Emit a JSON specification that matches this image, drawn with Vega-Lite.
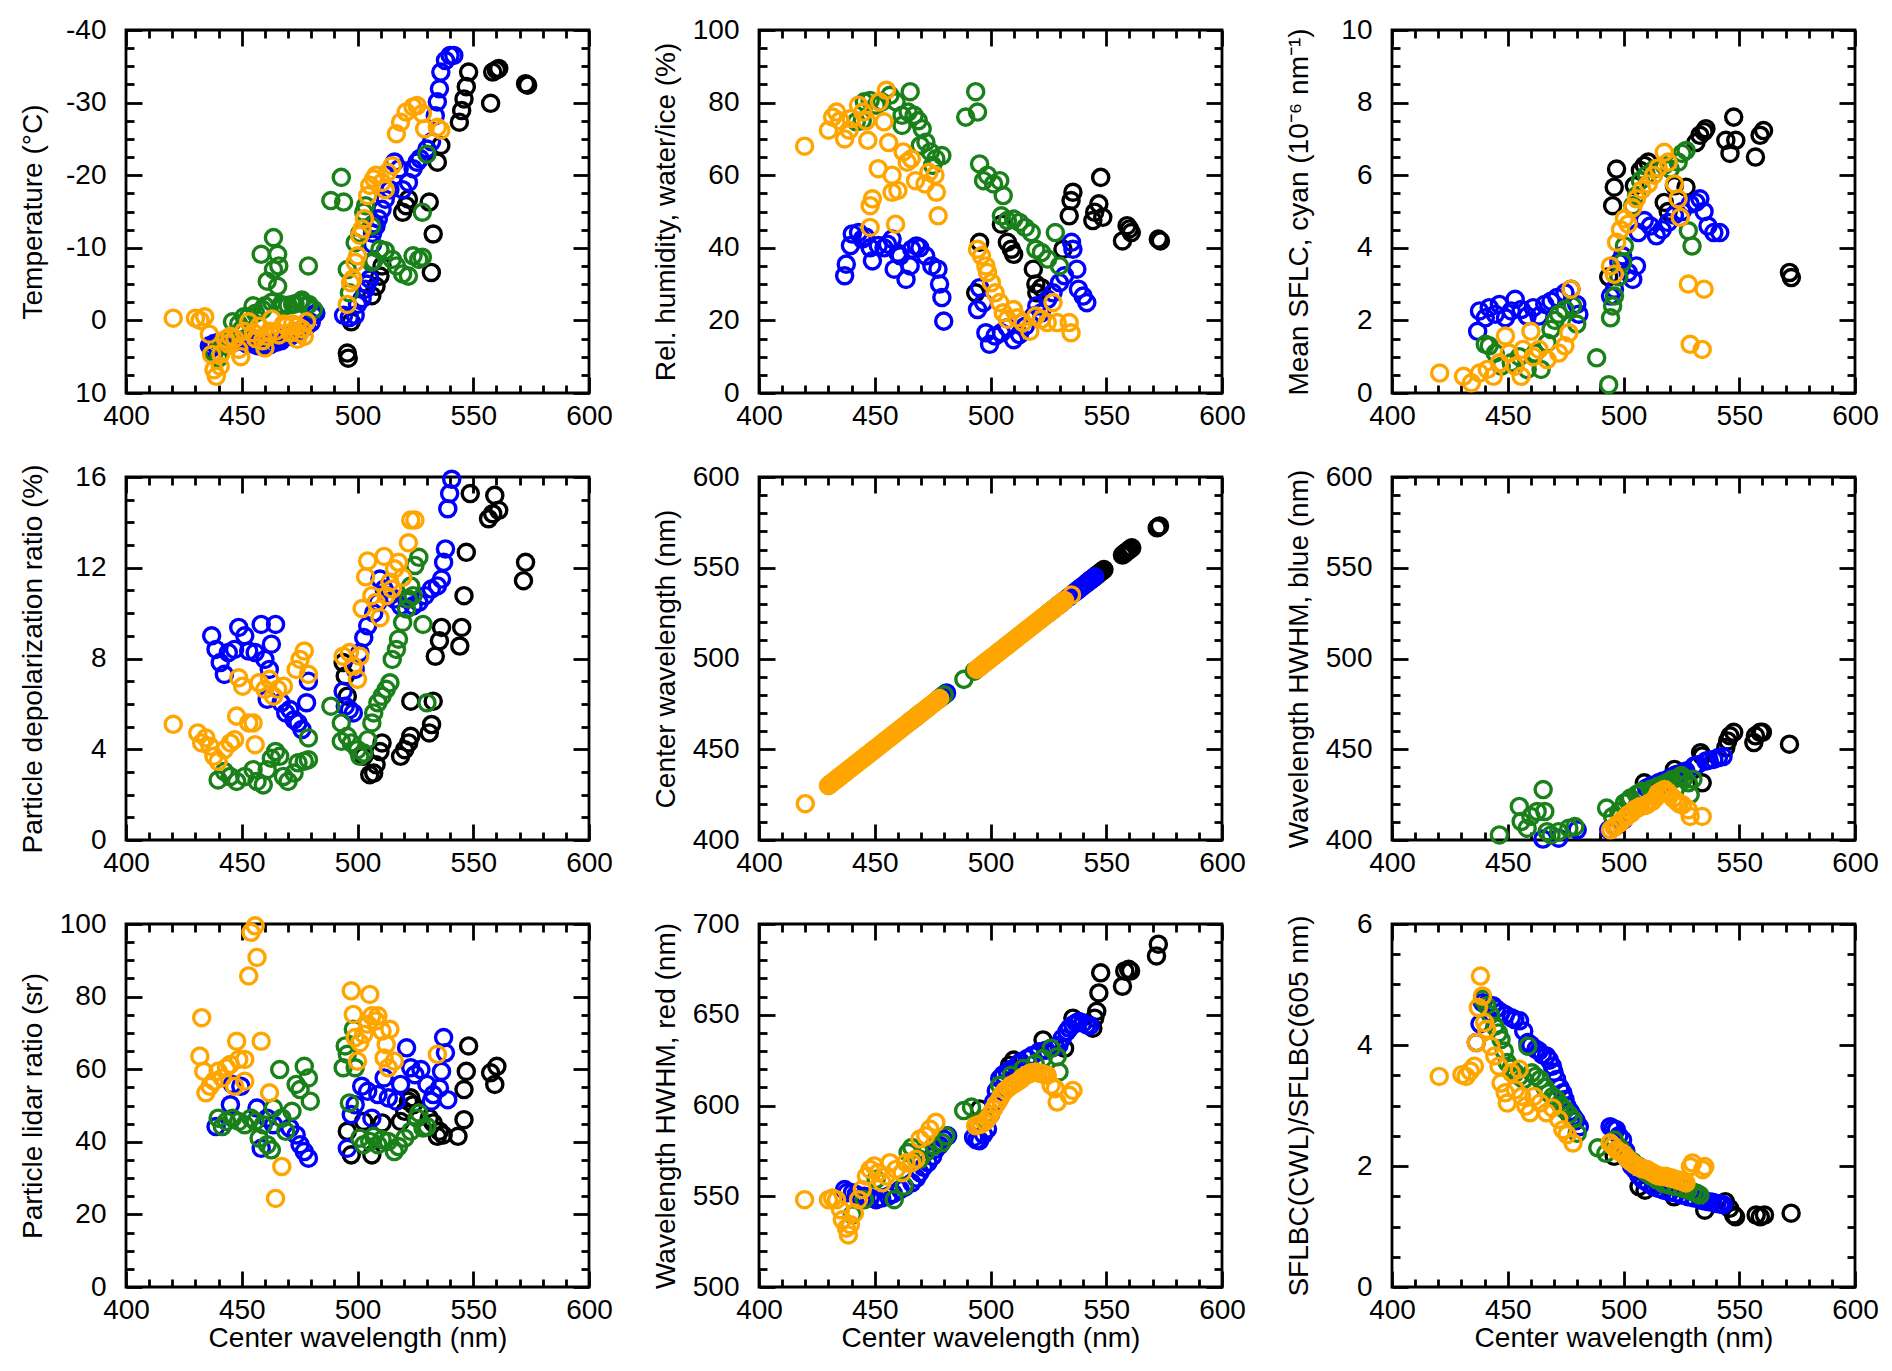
{
  "$schema": "https://vega.github.io/schema/vega-lite/v6.json",
  "background": "white",
  "padding": {"left": 17, "top": 14, "right": 10, "bottom": 10},
  "columns": 3,
  "spacing": {"row": 84, "column": 170},
  "bounds": "flush",
  "config": {
    "view": {"stroke": "black", "strokeWidth": 2.8},
    "axis": {"domain": false, "grid": false, "ticks": true, "zindex": 1, "tickOpacity": 1, "labelFont": "Liberation Sans", "labelFontSize": 28, "labelColor": "black",
      "titleFont": "Liberation Sans", "titleFontSize": 28, "titleFontWeight": "normal", "titleColor": "black",
      "tickColor": "black", "tickWidth": 2.8, "labelFlush": false, "labelOverlap": false},
    "axisX": {"labelPadding": 25},
    "axisY": {"labelPadding": 36},
    "point": {"shape": "circle", "filled": false, "size": 260, "strokeWidth": 3.4, "opacity": 1}
  },
  "datasets": {
    "p1": [
      {"g":"k","x":495.6,"y":4.5},{"g":"k","x":496,"y":5.2},{"g":"k","x":497.3,"y":0.2},{"g":"k","x":506.2,"y":-3.4},{"g":"k","x":508,"y":-4.7},{"g":"k","x":509.7,"y":-6.1},{"g":"k","x":510.6,"y":-7.5},{"g":"k","x":519.5,"y":-14.9},{"g":"k","x":521,"y":-15.8},{"g":"k","x":522,"y":-16.7},{"g":"k","x":531,"y":-16.3},{"g":"k","x":532.7,"y":-11.9},{"g":"k","x":531.9,"y":-6.6},{"g":"k","x":534.5,"y":-21.8},{"g":"k","x":536,"y":-24.1},{"g":"k","x":544,"y":-27.3},{"g":"k","x":545,"y":-28.9},{"g":"k","x":546,"y":-30.5},{"g":"k","x":547,"y":-32.2},{"g":"k","x":548,"y":-34.2},{"g":"k","x":557.5,"y":-29.9},{"g":"k","x":558.4,"y":-34.2},{"g":"k","x":560,"y":-34.5},{"g":"k","x":561,"y":-34.7},{"g":"k","x":572.6,"y":-32.6},{"g":"k","x":573.5,"y":-32.4},
      {"g":"b","x":436,"y":3.5},{"g":"b","x":437,"y":3.8},{"g":"b","x":438,"y":3.2},{"g":"b","x":440,"y":3},{"g":"b","x":442,"y":3.3},{"g":"b","x":443,"y":3.5},{"g":"b","x":445,"y":3.2},{"g":"b","x":447,"y":3.0},{"g":"b","x":448,"y":2.9},{"g":"b","x":450,"y":2.8},{"g":"b","x":452,"y":3.2},{"g":"b","x":453,"y":3.1},{"g":"b","x":455,"y":3.3},{"g":"b","x":457,"y":3.5},{"g":"b","x":458,"y":3.2},{"g":"b","x":460,"y":3.6},{"g":"b","x":462,"y":3.4},{"g":"b","x":463,"y":3.2},{"g":"b","x":465,"y":3},{"g":"b","x":467,"y":2.8},{"g":"b","x":468,"y":2.4},{"g":"b","x":470,"y":2},{"g":"b","x":471,"y":2.2},{"g":"b","x":473,"y":1.6},{"g":"b","x":475,"y":1.5},{"g":"b","x":476,"y":1.2},{"g":"b","x":478,"y":0.8},{"g":"b","x":480,"y":0.3},{"g":"b","x":481,"y":-0.7},{"g":"b","x":482,"y":-1},{"g":"b","x":494,"y":-0.7},{"g":"b","x":496.5,"y":-0.4},{"g":"b","x":499,"y":-0.7},{"g":"b","x":500,"y":-2.2},{"g":"b","x":502,"y":-3},{"g":"b","x":503.5,"y":-4.3},{"g":"b","x":504,"y":-5},{"g":"b","x":505.3,"y":-5.7},{"g":"b","x":506,"y":-8},{"g":"b","x":506.5,"y":-10.5},{"g":"b","x":506.5,"y":-12},{"g":"b","x":507,"y":-13.3},{"g":"b","x":508,"y":-13},{"g":"b","x":509,"y":-14},{"g":"b","x":510.6,"y":-15.3},{"g":"b","x":512,"y":-16.7},{"g":"b","x":514,"y":-18},{"g":"b","x":516,"y":-21.8},{"g":"b","x":518,"y":-20.9},{"g":"b","x":519.5,"y":-18},{"g":"b","x":522,"y":-19},{"g":"b","x":524,"y":-20.9},{"g":"b","x":525.7,"y":-21.8},{"g":"b","x":527,"y":-22.3},{"g":"b","x":530,"y":-23.6},{"g":"b","x":532,"y":-24.6},{"g":"b","x":533.6,"y":-28.2},{"g":"b","x":534.5,"y":-30.1},{"g":"b","x":535.4,"y":-31.9},{"g":"b","x":536,"y":-34.2},{"g":"b","x":538,"y":-35.8},{"g":"b","x":540,"y":-36.5},{"g":"b","x":541.6,"y":-36.5},
      {"g":"g","x":438,"y":4.5},{"g":"g","x":440,"y":5.2},{"g":"g","x":442.5,"y":3},{"g":"g","x":444,"y":2.5},{"g":"g","x":446,"y":0.2},{"g":"g","x":448.7,"y":0.5},{"g":"g","x":450,"y":1.2},{"g":"g","x":451,"y":-0.5},{"g":"g","x":453,"y":-0.5},{"g":"g","x":454.9,"y":-2},{"g":"g","x":456,"y":-1},{"g":"g","x":458.4,"y":-9.1},{"g":"g","x":459,"y":-1.5},{"g":"g","x":460,"y":-2},{"g":"g","x":461,"y":-5.4},{"g":"g","x":463,"y":-2.5},{"g":"g","x":463.7,"y":-7},{"g":"g","x":463.7,"y":-11.4},{"g":"g","x":465.5,"y":-9.1},{"g":"g","x":466,"y":-7.5},{"g":"g","x":465.5,"y":-4.7},{"g":"g","x":467,"y":-2.2},{"g":"g","x":468,"y":-2},{"g":"g","x":470,"y":-2.1},{"g":"g","x":472,"y":-2.2},{"g":"g","x":473,"y":-2.3},{"g":"g","x":475,"y":-2.5},{"g":"g","x":476,"y":-2.8},{"g":"g","x":478,"y":-2},{"g":"g","x":479,"y":-2.2},{"g":"g","x":481,"y":-1.5},{"g":"g","x":478.8,"y":-7.5},{"g":"g","x":488.5,"y":-16.5},{"g":"g","x":493,"y":-19.7},{"g":"g","x":494,"y":-16.3},{"g":"g","x":495.6,"y":-7},{"g":"g","x":496.5,"y":-3.8},{"g":"g","x":499,"y":-10.7},{"g":"g","x":501,"y":-12},{"g":"g","x":502.7,"y":-14.9},{"g":"g","x":503.5,"y":-15.8},{"g":"g","x":506,"y":-13},{"g":"g","x":506,"y":-8},{"g":"g","x":507,"y":-8.2},{"g":"g","x":509.7,"y":-9.8},{"g":"g","x":512,"y":-9.6},{"g":"g","x":515,"y":-8.4},{"g":"g","x":516.8,"y":-7.5},{"g":"g","x":519.5,"y":-6.4},{"g":"g","x":522,"y":-6.1},{"g":"g","x":524,"y":-8.9},{"g":"g","x":526.5,"y":-8.4},{"g":"g","x":528,"y":-8.7},{"g":"g","x":528,"y":-14.9},{"g":"g","x":530,"y":-22.9},
      {"g":"o","x":420.4,"y":-0.3},{"g":"o","x":430,"y":-0.3},{"g":"o","x":432,"y":0},{"g":"o","x":434,"y":-0.5},{"g":"o","x":436,"y":1.9},{"g":"o","x":437,"y":4.7},{"g":"o","x":438,"y":6.8},{"g":"o","x":439,"y":7.7},{"g":"o","x":440.7,"y":6.3},{"g":"o","x":441,"y":4.6},{"g":"o","x":443,"y":2.6},{"g":"o","x":444,"y":3.2},{"g":"o","x":445,"y":2.2},{"g":"o","x":447,"y":2.5},{"g":"o","x":448.7,"y":4},{"g":"o","x":449.6,"y":5},{"g":"o","x":451,"y":1.5},{"g":"o","x":453,"y":0.2},{"g":"o","x":455,"y":1.7},{"g":"o","x":456,"y":2.5},{"g":"o","x":457.5,"y":0.8},{"g":"o","x":459,"y":2.8},{"g":"o","x":460,"y":3.8},{"g":"o","x":461,"y":2.2},{"g":"o","x":462,"y":1.5},{"g":"o","x":463,"y":-0.2},{"g":"o","x":464.6,"y":1.5},{"g":"o","x":466,"y":2},{"g":"o","x":468,"y":0.5},{"g":"o","x":469,"y":0.8},{"g":"o","x":471,"y":1.7},{"g":"o","x":472,"y":0.5},{"g":"o","x":474,"y":2.6},{"g":"o","x":474,"y":0.8},{"g":"o","x":475,"y":1.8},{"g":"o","x":476,"y":1.2},{"g":"o","x":477,"y":2.2},{"g":"o","x":478,"y":0.2},{"g":"o","x":495.6,"y":-2.2},{"g":"o","x":497,"y":-5.2},{"g":"o","x":498,"y":-5.7},{"g":"o","x":499,"y":-8},{"g":"o","x":500,"y":-8.9},{"g":"o","x":501,"y":-11.7},{"g":"o","x":502,"y":-12.6},{"g":"o","x":503,"y":-14},{"g":"o","x":504.4,"y":-17.2},{"g":"o","x":505.3,"y":-18.6},{"g":"o","x":507,"y":-19.5},{"g":"o","x":508,"y":-20},{"g":"o","x":510.6,"y":-19},{"g":"o","x":512,"y":-18},{"g":"o","x":513,"y":-20.4},{"g":"o","x":515,"y":-21.3},{"g":"o","x":516.8,"y":-25.7},{"g":"o","x":518.6,"y":-27.3},{"g":"o","x":521,"y":-28.7},{"g":"o","x":524,"y":-29.4},{"g":"o","x":525.7,"y":-29.6},{"g":"o","x":528,"y":-28.5},{"g":"o","x":529,"y":-26.4},{"g":"o","x":534.5,"y":-26.6},{"g":"o","x":536,"y":-26.2}
    ],
    "p2": [
      {"g":"k","x":493.6,"y":27.6},{"g":"k","x":495.3,"y":41.5},{"g":"k","x":504.7,"y":46.5},{"g":"k","x":507.3,"y":41.5},{"g":"k","x":509,"y":39.6},{"g":"k","x":510,"y":38.2},{"g":"k","x":518.5,"y":34.1},{"g":"k","x":519.6,"y":30},{"g":"k","x":520,"y":27.6},{"g":"k","x":522,"y":29},{"g":"k","x":531.3,"y":39.6},{"g":"k","x":534,"y":48.8},{"g":"k","x":534.8,"y":53},{"g":"k","x":535.6,"y":55.3},{"g":"k","x":544.2,"y":47.5},{"g":"k","x":545,"y":49.8},{"g":"k","x":546.8,"y":52.1},{"g":"k","x":547.6,"y":59.4},{"g":"k","x":548.5,"y":48.4},{"g":"k","x":557,"y":41.9},{"g":"k","x":559,"y":46.1},{"g":"k","x":560,"y":45.2},{"g":"k","x":560.8,"y":44.2},{"g":"k","x":572.5,"y":42.4},{"g":"k","x":573.4,"y":41.9},
      {"g":"b","x":437,"y":32.3},{"g":"b","x":437.7,"y":35.5},{"g":"b","x":439.5,"y":40.6},{"g":"b","x":440.3,"y":43.8},{"g":"b","x":443,"y":44.2},{"g":"b","x":444.6,"y":42.4},{"g":"b","x":446,"y":43},{"g":"b","x":448,"y":40},{"g":"b","x":449,"y":36.4},{"g":"b","x":451.5,"y":40.6},{"g":"b","x":454,"y":40},{"g":"b","x":455.5,"y":41},{"g":"b","x":457.5,"y":42.4},{"g":"b","x":458.4,"y":34.1},{"g":"b","x":460,"y":38.5},{"g":"b","x":461,"y":37.8},{"g":"b","x":463.5,"y":31.3},{"g":"b","x":465.3,"y":35},{"g":"b","x":466,"y":39.6},{"g":"b","x":468,"y":40.5},{"g":"b","x":469.5,"y":40},{"g":"b","x":472,"y":37.8},{"g":"b","x":474.7,"y":35},{"g":"b","x":477.3,"y":34.1},{"g":"b","x":478,"y":30},{"g":"b","x":479,"y":26.3},{"g":"b","x":479.8,"y":19.8},{"g":"b","x":494.4,"y":23},{"g":"b","x":495.3,"y":29},{"g":"b","x":497,"y":24.9},{"g":"b","x":498,"y":16.6},{"g":"b","x":499.6,"y":13.4},{"g":"b","x":502,"y":15.7},{"g":"b","x":504.7,"y":16.6},{"g":"b","x":507.3,"y":18},{"g":"b","x":510,"y":14.7},{"g":"b","x":512.5,"y":16.1},{"g":"b","x":515,"y":18.4},{"g":"b","x":518.5,"y":21.2},{"g":"b","x":520,"y":24},{"g":"b","x":522,"y":22.1},{"g":"b","x":524.7,"y":25.8},{"g":"b","x":527,"y":27.6},{"g":"b","x":529.8,"y":30.4},{"g":"b","x":532,"y":32.3},{"g":"b","x":535,"y":41.5},{"g":"b","x":535.6,"y":39.6},{"g":"b","x":537.3,"y":34.1},{"g":"b","x":538,"y":28.6},{"g":"b","x":540,"y":26.7},{"g":"b","x":541.6,"y":24.9},
      {"g":"g","x":442,"y":74.7},{"g":"g","x":444.6,"y":75},{"g":"g","x":445.5,"y":80.2},{"g":"g","x":448,"y":80.6},{"g":"g","x":450.6,"y":79.3},{"g":"g","x":453,"y":80.2},{"g":"g","x":456.6,"y":82},{"g":"g","x":459.2,"y":80.2},{"g":"g","x":461.8,"y":76.5},{"g":"g","x":461.8,"y":73.7},{"g":"g","x":465.3,"y":83},{"g":"g","x":464.4,"y":77.4},{"g":"g","x":467,"y":76.5},{"g":"g","x":468.8,"y":75},{"g":"g","x":470.5,"y":72.8},{"g":"g","x":469.7,"y":68.2},{"g":"g","x":472.1,"y":69.1},{"g":"g","x":474,"y":66.4},{"g":"g","x":476.4,"y":64.5},{"g":"g","x":479,"y":65.4},{"g":"g","x":475,"y":62.7},{"g":"g","x":489.3,"y":76},{"g":"g","x":493.6,"y":83},{"g":"g","x":494.4,"y":77.4},{"g":"g","x":495.3,"y":63.1},{"g":"g","x":497,"y":58.5},{"g":"g","x":498.7,"y":60},{"g":"g","x":501.3,"y":57.6},{"g":"g","x":504,"y":58.5},{"g":"g","x":505.5,"y":54.4},{"g":"g","x":504.7,"y":48.8},{"g":"g","x":507.3,"y":47.5},{"g":"g","x":510,"y":47.9},{"g":"g","x":512.5,"y":47},{"g":"g","x":515,"y":45.6},{"g":"g","x":517.6,"y":44.2},{"g":"g","x":519.6,"y":39.6},{"g":"g","x":522,"y":38.7},{"g":"g","x":524.7,"y":36.9},{"g":"g","x":528,"y":44.2},{"g":"g","x":529.8,"y":35},
      {"g":"o","x":419.7,"y":68},{"g":"o","x":430,"y":72.4},{"g":"o","x":431.8,"y":76},{"g":"o","x":433.5,"y":77.4},{"g":"o","x":435,"y":75},{"g":"o","x":437,"y":70},{"g":"o","x":438.9,"y":72.4},{"g":"o","x":439.8,"y":75.6},{"g":"o","x":443,"y":79.3},{"g":"o","x":444.9,"y":77.4},{"g":"o","x":446.4,"y":75},{"g":"o","x":447,"y":69.6},{"g":"o","x":452,"y":80.2},{"g":"o","x":455,"y":83.4},{"g":"o","x":454,"y":74.7},{"g":"o","x":456,"y":69},{"g":"o","x":451.5,"y":61.8},{"g":"o","x":449,"y":53.5},{"g":"o","x":448,"y":51.6},{"g":"o","x":448,"y":45.6},{"g":"o","x":457.5,"y":60},{"g":"o","x":457.5,"y":55.3},{"g":"o","x":460,"y":55.8},{"g":"o","x":459,"y":46.5},{"g":"o","x":462.3,"y":66.4},{"g":"o","x":464,"y":63.6},{"g":"o","x":465.8,"y":64.5},{"g":"o","x":467.6,"y":58.5},{"g":"o","x":471.7,"y":57.6},{"g":"o","x":473.4,"y":60.8},{"g":"o","x":476,"y":60},{"g":"o","x":476.6,"y":55.3},{"g":"o","x":477.4,"y":48.8},{"g":"o","x":494.4,"y":39.6},{"g":"o","x":496.1,"y":37.8},{"g":"o","x":498,"y":35},{"g":"o","x":498.7,"y":33.2},{"g":"o","x":500.4,"y":30.4},{"g":"o","x":502,"y":27.6},{"g":"o","x":504,"y":24.9},{"g":"o","x":505.5,"y":22.1},{"g":"o","x":507.3,"y":20.3},{"g":"o","x":509.9,"y":23},{"g":"o","x":511.6,"y":20.7},{"g":"o","x":514,"y":19.4},{"g":"o","x":517,"y":17},{"g":"o","x":519.6,"y":21.2},{"g":"o","x":522,"y":20.3},{"g":"o","x":524.5,"y":19.4},{"g":"o","x":527,"y":24.9},{"g":"o","x":528.8,"y":19.4},{"g":"o","x":534,"y":19.4},{"g":"o","x":534.8,"y":16.6}
    ],
    "p3": [
      {"g":"k","x":493.6,"y":3.2},{"g":"k","x":495.3,"y":5.16},{"g":"k","x":496,"y":5.67},{"g":"k","x":497,"y":6.17},{"g":"k","x":504.7,"y":5.71},{"g":"k","x":507.3,"y":6.13},{"g":"k","x":509,"y":6.27},{"g":"k","x":510.7,"y":6.36},{"g":"k","x":517.6,"y":5.25},{"g":"k","x":519.3,"y":5.0},{"g":"k","x":522,"y":5.71},{"g":"k","x":527,"y":5.67},{"g":"k","x":531.3,"y":6.9},{"g":"k","x":533,"y":7.1},{"g":"k","x":534.8,"y":7.2},{"g":"k","x":535.6,"y":7.28},{"g":"k","x":544.2,"y":6.96},{"g":"k","x":546,"y":6.6},{"g":"k","x":547.6,"y":7.6},{"g":"k","x":548.5,"y":6.96},{"g":"k","x":557,"y":6.5},{"g":"k","x":559,"y":7.1},{"g":"k","x":560.5,"y":7.23},{"g":"k","x":571.7,"y":3.32},{"g":"k","x":572.5,"y":3.18},
      {"g":"b","x":437,"y":1.7},{"g":"b","x":437.8,"y":2.26},{"g":"b","x":440.3,"y":2.07},{"g":"b","x":442,"y":2.35},{"g":"b","x":444.6,"y":2.17},{"g":"b","x":446.4,"y":2.44},{"g":"b","x":449,"y":2.07},{"g":"b","x":451.5,"y":2.26},{"g":"b","x":453.2,"y":2.58},{"g":"b","x":455.8,"y":2.3},{"g":"b","x":458.4,"y":2.12},{"g":"b","x":461,"y":2.35},{"g":"b","x":463.5,"y":2.12},{"g":"b","x":466,"y":2.44},{"g":"b","x":468.7,"y":2.53},{"g":"b","x":471.2,"y":2.63},{"g":"b","x":474.7,"y":2.76},{"g":"b","x":477.3,"y":2.86},{"g":"b","x":479.8,"y":2.44},{"g":"b","x":480.7,"y":2.17},{"g":"b","x":494.4,"y":2.67},{"g":"b","x":496.1,"y":2.86},{"g":"b","x":498,"y":3.6},{"g":"b","x":499.6,"y":3.78},{"g":"b","x":502,"y":3.32},{"g":"b","x":504,"y":3.13},{"g":"b","x":505.6,"y":3.5},{"g":"b","x":506.4,"y":4.42},{"g":"b","x":509,"y":4.75},{"g":"b","x":511.6,"y":4.6},{"g":"b","x":514.2,"y":4.33},{"g":"b","x":516.7,"y":4.5},{"g":"b","x":519.3,"y":4.7},{"g":"b","x":522,"y":4.9},{"g":"b","x":525.3,"y":5.0},{"g":"b","x":528.8,"y":5.2},{"g":"b","x":531.3,"y":5.25},{"g":"b","x":533,"y":5.35},{"g":"b","x":534.8,"y":5.0},{"g":"b","x":536.5,"y":4.6},{"g":"b","x":539,"y":4.42},{"g":"b","x":541.6,"y":4.42},
      {"g":"g","x":440.3,"y":1.34},{"g":"g","x":442,"y":1.3},{"g":"g","x":444.6,"y":1.1},{"g":"g","x":447.2,"y":0.74},{"g":"g","x":451.5,"y":0.83},{"g":"g","x":455,"y":1.0},{"g":"g","x":458.4,"y":0.65},{"g":"g","x":461.8,"y":1.1},{"g":"g","x":464.4,"y":0.65},{"g":"g","x":467,"y":1.38},{"g":"g","x":468.7,"y":1.75},{"g":"g","x":470.4,"y":2.0},{"g":"g","x":472,"y":2.17},{"g":"g","x":474.7,"y":2.3},{"g":"g","x":478,"y":2.4},{"g":"g","x":479.8,"y":1.9},{"g":"g","x":488.4,"y":0.97},{"g":"g","x":493.6,"y":0.23},{"g":"g","x":494.4,"y":2.07},{"g":"g","x":495.3,"y":2.4},{"g":"g","x":496.1,"y":2.67},{"g":"g","x":498,"y":3.2},{"g":"g","x":499.6,"y":3.6},{"g":"g","x":500.4,"y":4.05},{"g":"g","x":504,"y":5.16},{"g":"g","x":505.6,"y":5.44},{"g":"g","x":507.3,"y":5.85},{"g":"g","x":509.9,"y":6.0},{"g":"g","x":513.3,"y":6.17},{"g":"g","x":517.6,"y":6.27},{"g":"g","x":520.2,"y":6.17},{"g":"g","x":523.6,"y":6.36},{"g":"g","x":525.3,"y":6.6},{"g":"g","x":527,"y":6.68},{"g":"g","x":528,"y":4.47},{"g":"g","x":529.6,"y":4.05},
      {"g":"o","x":420.6,"y":0.55},{"g":"o","x":430.9,"y":0.46},{"g":"o","x":434.3,"y":0.28},{"g":"o","x":437.8,"y":0.55},{"g":"o","x":441.2,"y":0.65},{"g":"o","x":443.8,"y":0.46},{"g":"o","x":446.4,"y":0.83},{"g":"o","x":449,"y":1.57},{"g":"o","x":450.6,"y":1.1},{"g":"o","x":453.2,"y":0.74},{"g":"o","x":455.8,"y":0.46},{"g":"o","x":456.6,"y":1.2},{"g":"o","x":460,"y":1.7},{"g":"o","x":461,"y":1.0},{"g":"o","x":463.5,"y":1.2},{"g":"o","x":467,"y":0.92},{"g":"o","x":472,"y":1.1},{"g":"o","x":474.7,"y":1.3},{"g":"o","x":476.4,"y":1.66},{"g":"o","x":477.3,"y":2.86},{"g":"o","x":494.4,"y":3.5},{"g":"o","x":496,"y":3.27},{"g":"o","x":497,"y":4.15},{"g":"o","x":498.7,"y":4.5},{"g":"o","x":500.4,"y":4.8},{"g":"o","x":502,"y":4.65},{"g":"o","x":504,"y":5.1},{"g":"o","x":505.6,"y":5.35},{"g":"o","x":508,"y":5.6},{"g":"o","x":510.7,"y":5.76},{"g":"o","x":513,"y":6.0},{"g":"o","x":515,"y":6.2},{"g":"o","x":517.6,"y":6.63},{"g":"o","x":519.3,"y":6.36},{"g":"o","x":522,"y":5.76},{"g":"o","x":523.6,"y":5.35},{"g":"o","x":524.5,"y":4.84},{"g":"o","x":528,"y":3.0},{"g":"o","x":534.8,"y":2.86},{"g":"o","x":528.8,"y":1.34},{"g":"o","x":534,"y":1.2}
    ],
    "p4": [
      {"g":"k","x":493.8,"y":7.82},{"g":"k","x":494.7,"y":7.23},{"g":"k","x":495.6,"y":6.34},{"g":"k","x":502.7,"y":3.69},{"g":"k","x":505.3,"y":2.88},{"g":"k","x":507,"y":2.95},{"g":"k","x":508,"y":3.32},{"g":"k","x":509.7,"y":3.9},{"g":"k","x":510.6,"y":4.28},{"g":"k","x":518.6,"y":3.69},{"g":"k","x":520.4,"y":3.98},{"g":"k","x":522.1,"y":4.28},{"g":"k","x":523,"y":4.57},{"g":"k","x":523,"y":6.12},{"g":"k","x":531,"y":4.72},{"g":"k","x":532,"y":5.09},{"g":"k","x":532.7,"y":6.12},{"g":"k","x":533.6,"y":8.1},{"g":"k","x":535.4,"y":8.78},{"g":"k","x":536.3,"y":9.37},{"g":"k","x":544.2,"y":8.55},{"g":"k","x":545,"y":9.37},{"g":"k","x":546,"y":10.77},{"g":"k","x":547,"y":12.68},{"g":"k","x":548.7,"y":15.27},{"g":"k","x":556.6,"y":14.16},{"g":"k","x":558.4,"y":14.38},{"g":"k","x":559.3,"y":15.19},{"g":"k","x":561,"y":14.53},{"g":"k","x":571.7,"y":11.43},{"g":"k","x":572.6,"y":12.24},
      {"g":"b","x":437,"y":9.0},{"g":"b","x":438.9,"y":8.4},{"g":"b","x":440.7,"y":7.82},{"g":"b","x":442.5,"y":7.3},{"g":"b","x":444.2,"y":8.26},{"g":"b","x":446.9,"y":8.4},{"g":"b","x":448.7,"y":9.37},{"g":"b","x":451.3,"y":9.0},{"g":"b","x":453,"y":8.33},{"g":"b","x":455.8,"y":8.26},{"g":"b","x":458.4,"y":9.5},{"g":"b","x":460,"y":7.96},{"g":"b","x":462.8,"y":8.63},{"g":"b","x":464.6,"y":9.5},{"g":"b","x":461.9,"y":7.52},{"g":"b","x":461,"y":6.2},{"g":"b","x":467,"y":6.05},{"g":"b","x":469,"y":5.6},{"g":"b","x":470.8,"y":5.75},{"g":"b","x":472.6,"y":5.3},{"g":"b","x":474.3,"y":5.16},{"g":"b","x":476,"y":4.87},{"g":"b","x":478,"y":6.05},{"g":"b","x":478.8,"y":7.0},{"g":"b","x":493.8,"y":6.56},{"g":"b","x":494.7,"y":5.9},{"g":"b","x":496.5,"y":5.75},{"g":"b","x":498.2,"y":5.6},{"g":"b","x":499,"y":7.52},{"g":"b","x":501,"y":8.26},{"g":"b","x":502.7,"y":8.92},{"g":"b","x":504.4,"y":9.44},{"g":"b","x":507,"y":10.0},{"g":"b","x":508.8,"y":10.47},{"g":"b","x":509.7,"y":11.5},{"g":"b","x":511.5,"y":11.06},{"g":"b","x":514,"y":10.77},{"g":"b","x":516,"y":10.62},{"g":"b","x":518.6,"y":10.32},{"g":"b","x":521.2,"y":10.62},{"g":"b","x":524,"y":10.32},{"g":"b","x":526.5,"y":10.47},{"g":"b","x":529.2,"y":10.77},{"g":"b","x":531.9,"y":11.06},{"g":"b","x":534.5,"y":11.2},{"g":"b","x":536.3,"y":11.5},{"g":"b","x":537.2,"y":12.24},{"g":"b","x":538,"y":12.83},{"g":"b","x":539,"y":14.6},{"g":"b","x":539.8,"y":15.27},{"g":"b","x":540.7,"y":15.9},
      {"g":"g","x":439.8,"y":2.65},{"g":"g","x":442.5,"y":3.02},{"g":"g","x":445,"y":2.8},{"g":"g","x":447.8,"y":2.58},{"g":"g","x":451.3,"y":2.8},{"g":"g","x":454.9,"y":3.1},{"g":"g","x":456.6,"y":2.58},{"g":"g","x":459.3,"y":2.43},{"g":"g","x":461,"y":3.1},{"g":"g","x":462.8,"y":3.6},{"g":"g","x":464.6,"y":3.9},{"g":"g","x":466.4,"y":3.69},{"g":"g","x":468,"y":2.8},{"g":"g","x":470,"y":2.58},{"g":"g","x":472.6,"y":2.95},{"g":"g","x":474.3,"y":3.4},{"g":"g","x":477,"y":3.47},{"g":"g","x":478.8,"y":3.54},{"g":"g","x":478.8,"y":4.5},{"g":"g","x":488.5,"y":5.9},{"g":"g","x":493,"y":5.16},{"g":"g","x":493,"y":4.35},{"g":"g","x":495.6,"y":4.57},{"g":"g","x":497.3,"y":4.28},{"g":"g","x":500,"y":3.98},{"g":"g","x":501,"y":3.69},{"g":"g","x":502.7,"y":3.83},{"g":"g","x":504.4,"y":4.42},{"g":"g","x":506.2,"y":5.16},{"g":"g","x":507,"y":5.6},{"g":"g","x":508.8,"y":6.05},{"g":"g","x":510.6,"y":6.34},{"g":"g","x":512.4,"y":6.64},{"g":"g","x":514,"y":6.93},{"g":"g","x":515,"y":7.96},{"g":"g","x":516.8,"y":8.4},{"g":"g","x":517.7,"y":8.85},{"g":"g","x":519.5,"y":9.59},{"g":"g","x":521.2,"y":10.18},{"g":"g","x":522,"y":10.62},{"g":"g","x":523,"y":11.2},{"g":"g","x":524,"y":10.77},{"g":"g","x":524.8,"y":12.1},{"g":"g","x":526.5,"y":12.46},{"g":"g","x":528.3,"y":9.5},{"g":"g","x":530,"y":6.05},
      {"g":"o","x":420.4,"y":5.1},{"g":"o","x":431,"y":4.72},{"g":"o","x":432.7,"y":4.28},{"g":"o","x":434.5,"y":4.5},{"g":"o","x":436.3,"y":4.13},{"g":"o","x":438,"y":3.69},{"g":"o","x":439.8,"y":3.47},{"g":"o","x":442.5,"y":3.98},{"g":"o","x":445.1,"y":4.28},{"g":"o","x":446.9,"y":4.42},{"g":"o","x":447.8,"y":5.46},{"g":"o","x":448.7,"y":7.15},{"g":"o","x":450.4,"y":6.78},{"g":"o","x":453,"y":5.16},{"g":"o","x":454.9,"y":5.16},{"g":"o","x":455.8,"y":4.2},{"g":"o","x":457.5,"y":6.93},{"g":"o","x":460,"y":6.64},{"g":"o","x":462,"y":7.08},{"g":"o","x":463.7,"y":6.34},{"g":"o","x":465.5,"y":6.64},{"g":"o","x":468,"y":6.78},{"g":"o","x":473.5,"y":7.52},{"g":"o","x":475.2,"y":7.96},{"g":"o","x":477,"y":8.33},{"g":"o","x":478.8,"y":7.3},{"g":"o","x":493.8,"y":8.1},{"g":"o","x":496.5,"y":8.26},{"g":"o","x":498.2,"y":7.67},{"g":"o","x":500,"y":7.08},{"g":"o","x":501,"y":8.1},{"g":"o","x":502,"y":10.2},{"g":"o","x":503.5,"y":11.6},{"g":"o","x":504.4,"y":12.3},{"g":"o","x":506.2,"y":10.77},{"g":"o","x":508,"y":10.47},{"g":"o","x":509.7,"y":9.8},{"g":"o","x":511.5,"y":12.5},{"g":"o","x":512.4,"y":10.77},{"g":"o","x":514,"y":11.36},{"g":"o","x":515,"y":11.06},{"g":"o","x":516,"y":11.95},{"g":"o","x":517.7,"y":12.24},{"g":"o","x":519.5,"y":11.58},{"g":"o","x":522,"y":13.1},{"g":"o","x":523,"y":14.1},{"g":"o","x":524.8,"y":14.1}
    ],
    "p5": [
      {"g":"k","x":543,"y":543},{"g":"k","x":544,"y":544},{"g":"k","x":545,"y":545},{"g":"k","x":546,"y":546},{"g":"k","x":547,"y":547},{"g":"k","x":548,"y":548},{"g":"k","x":549,"y":549},{"g":"k","x":557,"y":557},{"g":"k","x":558,"y":558},{"g":"k","x":559,"y":559},{"g":"k","x":560,"y":560},{"g":"k","x":561,"y":561},{"g":"k","x":572,"y":572},{"g":"k","x":573,"y":573},
      {"g":"b","x":478,"y":478},{"g":"b","x":479,"y":479},{"g":"b","x":480,"y":480},{"g":"b","x":481,"y":481},{"g":"b","x":530,"y":530},{"g":"b","x":532,"y":532},{"g":"b","x":534,"y":534},{"g":"b","x":536,"y":536},{"g":"b","x":537,"y":537},{"g":"b","x":538,"y":538},{"g":"b","x":539,"y":539},{"g":"b","x":540,"y":540},{"g":"b","x":541,"y":541},{"g":"b","x":542,"y":542},{"g":"b","x":543,"y":543},{"g":"b","x":544,"y":544},{"g":"b","x":545,"y":545},
      {"g":"g","x":466,"y":466},{"g":"g","x":468,"y":468},{"g":"g","x":470,"y":470},{"g":"g","x":478,"y":478},{"g":"g","x":480,"y":480},{"g":"g","x":488.5,"y":488.5},{"g":"g","x":493,"y":493},{"g":"g","x":525,"y":525},{"g":"g","x":527,"y":527},{"g":"g","x":529,"y":529},{"g":"g","x":530,"y":530},
      {"g":"o","x":420,"y":420},{"g":"o","x":430,"y":430},{"g":"o","x":431,"y":431},{"g":"o","x":432,"y":432},{"g":"o","x":433,"y":433},{"g":"o","x":434,"y":434},{"g":"o","x":435,"y":435},{"g":"o","x":436,"y":436},{"g":"o","x":437,"y":437},{"g":"o","x":438,"y":438},{"g":"o","x":439,"y":439},{"g":"o","x":440,"y":440},{"g":"o","x":441,"y":441},{"g":"o","x":442,"y":442},{"g":"o","x":443,"y":443},{"g":"o","x":444,"y":444},{"g":"o","x":445,"y":445},{"g":"o","x":446,"y":446},{"g":"o","x":447,"y":447},{"g":"o","x":448,"y":448},{"g":"o","x":449,"y":449},{"g":"o","x":450,"y":450},{"g":"o","x":451,"y":451},{"g":"o","x":452,"y":452},{"g":"o","x":453,"y":453},{"g":"o","x":454,"y":454},{"g":"o","x":455,"y":455},{"g":"o","x":456,"y":456},{"g":"o","x":457,"y":457},{"g":"o","x":458,"y":458},{"g":"o","x":459,"y":459},{"g":"o","x":460,"y":460},{"g":"o","x":461,"y":461},{"g":"o","x":462,"y":462},{"g":"o","x":463,"y":463},{"g":"o","x":464,"y":464},{"g":"o","x":465,"y":465},{"g":"o","x":466,"y":466},{"g":"o","x":467,"y":467},{"g":"o","x":468,"y":468},{"g":"o","x":469,"y":469},{"g":"o","x":470,"y":470},{"g":"o","x":471,"y":471},{"g":"o","x":472,"y":472},{"g":"o","x":473,"y":473},{"g":"o","x":474,"y":474},{"g":"o","x":475,"y":475},{"g":"o","x":476,"y":476},{"g":"o","x":477,"y":477},{"g":"o","x":478,"y":478},{"g":"o","x":494,"y":494},{"g":"o","x":495,"y":495},{"g":"o","x":496,"y":496},{"g":"o","x":497,"y":497},{"g":"o","x":498,"y":498},{"g":"o","x":499,"y":499},{"g":"o","x":500,"y":500},{"g":"o","x":501,"y":501},{"g":"o","x":502,"y":502},{"g":"o","x":503,"y":503},{"g":"o","x":504,"y":504},{"g":"o","x":505,"y":505},{"g":"o","x":506,"y":506},{"g":"o","x":507,"y":507},{"g":"o","x":508,"y":508},{"g":"o","x":509,"y":509},{"g":"o","x":510,"y":510},{"g":"o","x":511,"y":511},{"g":"o","x":512,"y":512},{"g":"o","x":513,"y":513},{"g":"o","x":514,"y":514},{"g":"o","x":515,"y":515},{"g":"o","x":516,"y":516},{"g":"o","x":517,"y":517},{"g":"o","x":518,"y":518},{"g":"o","x":519,"y":519},{"g":"o","x":520,"y":520},{"g":"o","x":521,"y":521},{"g":"o","x":522,"y":522},{"g":"o","x":523,"y":523},{"g":"o","x":524,"y":524},{"g":"o","x":525,"y":525},{"g":"o","x":526,"y":526},{"g":"o","x":527,"y":527},{"g":"o","x":528,"y":528},{"g":"o","x":529,"y":529},{"g":"o","x":530,"y":530},{"g":"o","x":531,"y":531},{"g":"o","x":532,"y":532},{"g":"o","x":535,"y":535}
    ],
    "p6": [
      {"g":"k","x":509,"y":431.5},{"g":"k","x":522,"y":438.9},{"g":"k","x":523,"y":436.1},{"g":"k","x":533.3,"y":448.1},{"g":"k","x":534,"y":446.3},{"g":"k","x":534,"y":431.5},{"g":"k","x":544.2,"y":450.9},{"g":"k","x":545,"y":454.6},{"g":"k","x":546,"y":457.4},{"g":"k","x":547.6,"y":459.3},{"g":"k","x":556.3,"y":453.7},{"g":"k","x":557,"y":457.4},{"g":"k","x":559,"y":459.3},{"g":"k","x":560,"y":459.3},{"g":"k","x":571.7,"y":452.8},
      {"g":"b","x":465.2,"y":400.5},{"g":"b","x":472,"y":401},{"g":"b","x":480,"y":405.6},{"g":"b","x":493.6,"y":405.6},{"g":"b","x":497,"y":408},{"g":"b","x":500,"y":411},{"g":"b","x":503,"y":415},{"g":"b","x":506,"y":419},{"g":"b","x":510,"y":428.7},{"g":"b","x":512,"y":430},{"g":"b","x":515.1,"y":431.5},{"g":"b","x":517,"y":432.5},{"g":"b","x":520.2,"y":434.3},{"g":"b","x":522,"y":435.5},{"g":"b","x":525.3,"y":437},{"g":"b","x":527,"y":438},{"g":"b","x":530.5,"y":440.7},{"g":"b","x":532,"y":441.5},{"g":"b","x":535.6,"y":443.5},{"g":"b","x":537,"y":444},{"g":"b","x":539,"y":444.4},{"g":"b","x":541,"y":445.4},{"g":"b","x":543,"y":446},
      {"g":"g","x":446.4,"y":402.8},{"g":"g","x":455,"y":418.5},{"g":"g","x":455.8,"y":410.2},{"g":"g","x":458.4,"y":406.5},{"g":"g","x":460,"y":413},{"g":"g","x":462.7,"y":415.7},{"g":"g","x":465.3,"y":427.8},{"g":"g","x":466,"y":415.7},{"g":"g","x":467,"y":404.6},{"g":"g","x":468.7,"y":402.8},{"g":"g","x":472,"y":404.6},{"g":"g","x":476.4,"y":406.5},{"g":"g","x":479,"y":407.4},{"g":"g","x":492.7,"y":417.6},{"g":"g","x":495.3,"y":413},{"g":"g","x":498,"y":415.7},{"g":"g","x":500.4,"y":420.4},{"g":"g","x":502,"y":421.5},{"g":"g","x":503,"y":423.1},{"g":"g","x":505.6,"y":425},{"g":"g","x":507,"y":426},{"g":"g","x":508,"y":426.9},{"g":"g","x":511.6,"y":427.8},{"g":"g","x":513,"y":428.5},{"g":"g","x":515,"y":429.6},{"g":"g","x":517,"y":430.5},{"g":"g","x":518.5,"y":431.5},{"g":"g","x":520,"y":432},{"g":"g","x":521,"y":433.3},{"g":"g","x":523.6,"y":434.3},{"g":"g","x":525,"y":435.5},{"g":"g","x":526.2,"y":434.3},{"g":"g","x":528,"y":431.5},{"g":"g","x":530,"y":433.5},{"g":"g","x":528.8,"y":425},
      {"g":"o","x":494.4,"y":405.6},{"g":"o","x":496,"y":407},{"g":"o","x":497,"y":408.3},{"g":"o","x":498.5,"y":409.5},{"g":"o","x":499.6,"y":411.1},{"g":"o","x":501,"y":412.5},{"g":"o","x":502,"y":413.9},{"g":"o","x":503.5,"y":415},{"g":"o","x":504.7,"y":416.7},{"g":"o","x":506,"y":417.5},{"g":"o","x":507.3,"y":418.5},{"g":"o","x":509,"y":419},{"g":"o","x":510,"y":419.4},{"g":"o","x":511,"y":420.3},{"g":"o","x":512.5,"y":421.3},{"g":"o","x":514,"y":423.5},{"g":"o","x":515,"y":425.9},{"g":"o","x":516.5,"y":427},{"g":"o","x":517.8,"y":427.8},{"g":"o","x":519,"y":426.5},{"g":"o","x":520,"y":425},{"g":"o","x":521.5,"y":423},{"g":"o","x":523,"y":421.3},{"g":"o","x":524,"y":420},{"g":"o","x":525.5,"y":419.4},{"g":"o","x":528,"y":416.7},{"g":"o","x":528.8,"y":413},{"g":"o","x":534,"y":413}
    ],
    "p7": [
      {"g":"k","x":495.6,"y":42.9},{"g":"k","x":497.3,"y":36.4},{"g":"k","x":502.7,"y":45.6},{"g":"k","x":506.2,"y":36.4},{"g":"k","x":510.6,"y":45.2},{"g":"k","x":518.6,"y":45.6},{"g":"k","x":520.4,"y":48.4},{"g":"k","x":522,"y":51.2},{"g":"k","x":523,"y":52.1},{"g":"k","x":524,"y":50.2},{"g":"k","x":531,"y":46.5},{"g":"k","x":532.7,"y":45.2},{"g":"k","x":534.5,"y":41.5},{"g":"k","x":535.4,"y":42.9},{"g":"k","x":537,"y":41.9},{"g":"k","x":543.4,"y":41.5},{"g":"k","x":546,"y":46.1},{"g":"k","x":546,"y":54.4},{"g":"k","x":547,"y":59.4},{"g":"k","x":548,"y":66.4},{"g":"k","x":557.5,"y":59},{"g":"k","x":559.3,"y":55.8},{"g":"k","x":560.2,"y":60.8},
      {"g":"b","x":438.9,"y":44.2},{"g":"b","x":445.1,"y":50.2},{"g":"b","x":446,"y":55.8},{"g":"b","x":449.6,"y":55.3},{"g":"b","x":456.6,"y":49.3},{"g":"b","x":458.4,"y":38.2},{"g":"b","x":461,"y":46.5},{"g":"b","x":463.7,"y":44.7},{"g":"b","x":467.3,"y":46.5},{"g":"b","x":470.8,"y":43.8},{"g":"b","x":473.5,"y":41.9},{"g":"b","x":475.2,"y":39.2},{"g":"b","x":477,"y":37.3},{"g":"b","x":478.8,"y":35.5},{"g":"b","x":495.6,"y":38.2},{"g":"b","x":497.3,"y":47.5},{"g":"b","x":499,"y":50.2},{"g":"b","x":501.8,"y":55.3},{"g":"b","x":504.4,"y":53.9},{"g":"b","x":506.2,"y":46.5},{"g":"b","x":508.8,"y":53},{"g":"b","x":511.5,"y":57.6},{"g":"b","x":513.3,"y":52.1},{"g":"b","x":516.8,"y":51.2},{"g":"b","x":518.6,"y":55.8},{"g":"b","x":521.2,"y":65.9},{"g":"b","x":523,"y":60.4},{"g":"b","x":524.8,"y":58.5},{"g":"b","x":527.4,"y":59.9},{"g":"b","x":530,"y":55.8},{"g":"b","x":531.9,"y":51.2},{"g":"b","x":532.7,"y":53},{"g":"b","x":535.4,"y":54.8},{"g":"b","x":537.2,"y":68.7},{"g":"b","x":536.3,"y":59.4},{"g":"b","x":539,"y":51.6},{"g":"b","x":538,"y":64.5},
      {"g":"g","x":439.8,"y":46.5},{"g":"g","x":441.6,"y":44.2},{"g":"g","x":443.4,"y":45.6},{"g":"g","x":446,"y":46.5},{"g":"g","x":448.7,"y":45.6},{"g":"g","x":451.3,"y":44.7},{"g":"g","x":454,"y":46.5},{"g":"g","x":455.8,"y":45.6},{"g":"g","x":457.5,"y":41},{"g":"g","x":459.3,"y":44.7},{"g":"g","x":461,"y":39.2},{"g":"g","x":462.8,"y":37.8},{"g":"g","x":463.7,"y":49.3},{"g":"g","x":466.4,"y":59.9},{"g":"g","x":467.3,"y":46.5},{"g":"g","x":469,"y":42.9},{"g":"g","x":471.7,"y":48.4},{"g":"g","x":473.5,"y":55.8},{"g":"g","x":475.2,"y":54.4},{"g":"g","x":477,"y":60.8},{"g":"g","x":478.8,"y":57.6},{"g":"g","x":479.6,"y":51.2},{"g":"g","x":493.8,"y":60.4},{"g":"g","x":494.7,"y":66.4},{"g":"g","x":495.6,"y":64.1},{"g":"g","x":496.5,"y":50.7},{"g":"g","x":498.2,"y":71},{"g":"g","x":499,"y":60.4},{"g":"g","x":501,"y":41},{"g":"g","x":502.7,"y":39.2},{"g":"g","x":505.3,"y":40.1},{"g":"g","x":507,"y":41.5},{"g":"g","x":508.8,"y":39.2},{"g":"g","x":510.6,"y":40.6},{"g":"g","x":513.3,"y":40.1},{"g":"g","x":515.9,"y":37.3},{"g":"g","x":517.7,"y":38.7},{"g":"g","x":520.4,"y":41},{"g":"g","x":523,"y":42.9},{"g":"g","x":525.7,"y":46.5},{"g":"g","x":526.5,"y":47.9},{"g":"g","x":528.3,"y":43.8},{"g":"g","x":530,"y":44.2},
      {"g":"o","x":431.9,"y":63.6},{"g":"o","x":432.7,"y":74.2},{"g":"o","x":433.6,"y":59.4},{"g":"o","x":434.5,"y":53.5},{"g":"o","x":436.3,"y":55.3},{"g":"o","x":438,"y":56.7},{"g":"o","x":439.8,"y":59.4},{"g":"o","x":441.6,"y":57.6},{"g":"o","x":443.4,"y":60.4},{"g":"o","x":445,"y":61.3},{"g":"o","x":446.9,"y":55.3},{"g":"o","x":447.8,"y":67.7},{"g":"o","x":448.7,"y":62.7},{"g":"o","x":451.3,"y":62.7},{"g":"o","x":451.3,"y":56.7},{"g":"o","x":453,"y":85.7},{"g":"o","x":454,"y":97.7},{"g":"o","x":455.8,"y":99.5},{"g":"o","x":456.6,"y":90.8},{"g":"o","x":458.4,"y":67.7},{"g":"o","x":462,"y":53.5},{"g":"o","x":467.3,"y":33.2},{"g":"o","x":464.6,"y":24.4},{"g":"o","x":497.3,"y":81.6},{"g":"o","x":498.2,"y":75.1},{"g":"o","x":499,"y":68.7},{"g":"o","x":501,"y":67.3},{"g":"o","x":500,"y":62.2},{"g":"o","x":502.7,"y":69.6},{"g":"o","x":504.4,"y":72.4},{"g":"o","x":505.3,"y":80.6},{"g":"o","x":506.2,"y":74.7},{"g":"o","x":508,"y":73.3},{"g":"o","x":508.8,"y":74.7},{"g":"o","x":510.6,"y":70.5},{"g":"o","x":512.4,"y":66.8},{"g":"o","x":514,"y":71},{"g":"o","x":511.5,"y":63.1},{"g":"o","x":513.3,"y":60.4},{"g":"o","x":515.9,"y":62.2},{"g":"o","x":534.5,"y":64.1}
    ],
    "p8": [
      {"g":"k","x":495.3,"y":598.1},{"g":"k","x":508.2,"y":622.2},{"g":"k","x":510,"y":625},{"g":"k","x":522.7,"y":636.1},{"g":"k","x":532,"y":631.5},{"g":"k","x":535.6,"y":648.1},{"g":"k","x":544.2,"y":642.6},{"g":"k","x":545,"y":648.1},{"g":"k","x":545.9,"y":651.9},{"g":"k","x":546.8,"y":662},{"g":"k","x":547.6,"y":673.1},{"g":"k","x":557,"y":665.7},{"g":"k","x":558,"y":674.1},{"g":"k","x":559.7,"y":675},{"g":"k","x":560.5,"y":674.1},{"g":"k","x":571.7,"y":682.4},{"g":"k","x":572.5,"y":688.9},
      {"g":"b","x":437,"y":553.7},{"g":"b","x":438,"y":552},{"g":"b","x":440.3,"y":551.9},{"g":"b","x":442,"y":551},{"g":"b","x":445.5,"y":550},{"g":"b","x":448,"y":549},{"g":"b","x":450.6,"y":548.1},{"g":"b","x":453,"y":549},{"g":"b","x":455.8,"y":550},{"g":"b","x":458,"y":551.5},{"g":"b","x":461,"y":553.7},{"g":"b","x":463,"y":555},{"g":"b","x":466,"y":557.4},{"g":"b","x":468,"y":560},{"g":"b","x":469.5,"y":563},{"g":"b","x":471,"y":566},{"g":"b","x":473,"y":568.5},{"g":"b","x":475,"y":572},{"g":"b","x":476.4,"y":575.9},{"g":"b","x":478,"y":578},{"g":"b","x":479.8,"y":581.5},{"g":"b","x":481.5,"y":583.3},{"g":"b","x":492.7,"y":582.4},{"g":"b","x":494,"y":581},{"g":"b","x":495.3,"y":580.6},{"g":"b","x":497,"y":584},{"g":"b","x":498.7,"y":587},{"g":"b","x":500,"y":595},{"g":"b","x":501.3,"y":601.9},{"g":"b","x":502.5,"y":608},{"g":"b","x":504,"y":614.8},{"g":"b","x":505.5,"y":617},{"g":"b","x":507.3,"y":618.5},{"g":"b","x":509,"y":620},{"g":"b","x":511.6,"y":622.2},{"g":"b","x":513,"y":624},{"g":"b","x":515.9,"y":625.9},{"g":"b","x":518,"y":627.5},{"g":"b","x":521,"y":629.6},{"g":"b","x":524,"y":630.5},{"g":"b","x":526.2,"y":631.5},{"g":"b","x":528,"y":632.5},{"g":"b","x":529.6,"y":633.3},{"g":"b","x":531,"y":637},{"g":"b","x":533,"y":640.7},{"g":"b","x":534,"y":642.5},{"g":"b","x":535.6,"y":644.4},{"g":"b","x":537,"y":645.5},{"g":"b","x":538.2,"y":646.3},{"g":"b","x":540,"y":645.5},{"g":"b","x":541.6,"y":644.4},{"g":"b","x":543,"y":644},
      {"g":"g","x":440.3,"y":539.8},{"g":"g","x":445.5,"y":548.1},{"g":"g","x":450.6,"y":559.3},{"g":"g","x":458.4,"y":548.1},{"g":"g","x":462.7,"y":555.6},{"g":"g","x":464.4,"y":574.1},{"g":"g","x":466,"y":576.9},{"g":"g","x":469.5,"y":570.4},{"g":"g","x":472,"y":574.1},{"g":"g","x":475.5,"y":577.8},{"g":"g","x":479,"y":579.6},{"g":"g","x":480.7,"y":583.3},{"g":"g","x":488.4,"y":597.2},{"g":"g","x":491.8,"y":599.1},{"g":"g","x":494.4,"y":589.8},{"g":"g","x":497,"y":592.6},{"g":"g","x":504,"y":611.1},{"g":"g","x":509,"y":616.7},{"g":"g","x":514.2,"y":620.4},{"g":"g","x":519.3,"y":623.1},{"g":"g","x":522.7,"y":625.9},{"g":"g","x":526.2,"y":631.5},{"g":"g","x":528.8,"y":626.9},{"g":"g","x":529.6,"y":618.5},
      {"g":"o","x":419.7,"y":548.1},{"g":"o","x":430,"y":548.1},{"g":"o","x":431.8,"y":549},{"g":"o","x":433.5,"y":548.1},{"g":"o","x":435.2,"y":542.6},{"g":"o","x":436,"y":537},{"g":"o","x":437.8,"y":532.4},{"g":"o","x":438.6,"y":528.7},{"g":"o","x":439.5,"y":534.3},{"g":"o","x":441.2,"y":540.7},{"g":"o","x":443,"y":548.1},{"g":"o","x":444.6,"y":553.7},{"g":"o","x":446.4,"y":561.1},{"g":"o","x":448,"y":564.8},{"g":"o","x":449.8,"y":566.7},{"g":"o","x":451.5,"y":563},{"g":"o","x":453.2,"y":557.4},{"g":"o","x":455,"y":561.1},{"g":"o","x":456.6,"y":568.5},{"g":"o","x":459.2,"y":564.8},{"g":"o","x":461.8,"y":563},{"g":"o","x":463.5,"y":568.5},{"g":"o","x":466,"y":568.5},{"g":"o","x":467.8,"y":570.4},{"g":"o","x":469.5,"y":581.5},{"g":"o","x":472,"y":583.3},{"g":"o","x":473.8,"y":587},{"g":"o","x":476.4,"y":590.7},{"g":"o","x":493.6,"y":588.9},{"g":"o","x":495,"y":589.5},{"g":"o","x":496,"y":589.8},{"g":"o","x":497.5,"y":591},{"g":"o","x":498.7,"y":592.6},{"g":"o","x":500,"y":595},{"g":"o","x":501.3,"y":598.1},{"g":"o","x":502.7,"y":601},{"g":"o","x":504,"y":603.7},{"g":"o","x":505,"y":606},{"g":"o","x":506.4,"y":608.3},{"g":"o","x":507.7,"y":609.7},{"g":"o","x":509,"y":611.1},{"g":"o","x":510.3,"y":612},{"g":"o","x":511.6,"y":613},{"g":"o","x":513,"y":614.3},{"g":"o","x":514.2,"y":615.7},{"g":"o","x":515.5,"y":616.7},{"g":"o","x":516.7,"y":617.6},{"g":"o","x":518,"y":618},{"g":"o","x":519.3,"y":618.5},{"g":"o","x":520.6,"y":618},{"g":"o","x":522,"y":617.6},{"g":"o","x":523.3,"y":617},{"g":"o","x":524.5,"y":616.7},{"g":"o","x":526.2,"y":611.1},{"g":"o","x":528,"y":609.3},{"g":"o","x":528.8,"y":601.9},{"g":"o","x":534,"y":605.6},{"g":"o","x":535.6,"y":608.3}
    ],
    "p9": [
      {"g":"k","x":496,"y":2.16},{"g":"k","x":506.7,"y":1.66},{"g":"k","x":509.3,"y":1.6},{"g":"k","x":521.8,"y":1.49},{"g":"k","x":535.1,"y":1.27},{"g":"k","x":544,"y":1.41},{"g":"k","x":545.8,"y":1.3},{"g":"k","x":547.6,"y":1.19},{"g":"k","x":548.4,"y":1.16},{"g":"k","x":557.3,"y":1.19},{"g":"k","x":559.1,"y":1.16},{"g":"k","x":560.9,"y":1.19},{"g":"k","x":572.4,"y":1.22},
      {"g":"b","x":436.4,"y":4.04},{"g":"b","x":438,"y":4.35},{"g":"b","x":439.1,"y":4.7},{"g":"b","x":441,"y":4.68},{"g":"b","x":443.6,"y":4.65},{"g":"b","x":445,"y":4.6},{"g":"b","x":447.1,"y":4.54},{"g":"b","x":449,"y":4.5},{"g":"b","x":451.6,"y":4.45},{"g":"b","x":453,"y":4.42},{"g":"b","x":455.1,"y":4.4},{"g":"b","x":456.9,"y":4.23},{"g":"b","x":458.7,"y":4.04},{"g":"b","x":460,"y":4.0},{"g":"b","x":462.2,"y":3.93},{"g":"b","x":463.5,"y":3.9},{"g":"b","x":464.9,"y":3.84},{"g":"b","x":466.7,"y":3.82},{"g":"b","x":468,"y":3.75},{"g":"b","x":469.3,"y":3.65},{"g":"b","x":470,"y":3.55},{"g":"b","x":471.1,"y":3.43},{"g":"b","x":472.5,"y":3.3},{"g":"b","x":473.8,"y":3.21},{"g":"b","x":474.7,"y":3.1},{"g":"b","x":475.6,"y":2.99},{"g":"b","x":477,"y":2.9},{"g":"b","x":478.2,"y":2.82},{"g":"b","x":479.5,"y":2.75},{"g":"b","x":480.9,"y":2.65},{"g":"b","x":494.2,"y":2.65},{"g":"b","x":495.5,"y":2.62},{"g":"b","x":496.9,"y":2.6},{"g":"b","x":498,"y":2.5},{"g":"b","x":499.6,"y":2.43},{"g":"b","x":501,"y":2.25},{"g":"b","x":502.2,"y":2.1},{"g":"b","x":503.5,"y":2.0},{"g":"b","x":504.9,"y":1.94},{"g":"b","x":506.5,"y":1.85},{"g":"b","x":508.4,"y":1.77},{"g":"b","x":510.5,"y":1.72},{"g":"b","x":512.9,"y":1.66},{"g":"b","x":515,"y":1.63},{"g":"b","x":517.3,"y":1.6},{"g":"b","x":520,"y":1.57},{"g":"b","x":522.7,"y":1.55},{"g":"b","x":525,"y":1.52},{"g":"b","x":528,"y":1.49},{"g":"b","x":530.5,"y":1.47},{"g":"b","x":533.3,"y":1.44},{"g":"b","x":535,"y":1.42},{"g":"b","x":536.9,"y":1.41},{"g":"b","x":538.5,"y":1.4},{"g":"b","x":540.4,"y":1.38},{"g":"b","x":542,"y":1.37},{"g":"b","x":543.1,"y":1.36},
      {"g":"g","x":439.1,"y":4.76},{"g":"g","x":440.9,"y":4.65},{"g":"g","x":442.5,"y":4.5},{"g":"g","x":444.4,"y":4.31},{"g":"g","x":446,"y":4.2},{"g":"g","x":447.1,"y":4.09},{"g":"g","x":448.5,"y":3.9},{"g":"g","x":449.8,"y":3.71},{"g":"g","x":451.5,"y":3.62},{"g":"g","x":453.3,"y":3.54},{"g":"g","x":455,"y":3.48},{"g":"g","x":456.9,"y":3.43},{"g":"g","x":458.7,"y":3.98},{"g":"g","x":460.4,"y":3.54},{"g":"g","x":462,"y":3.48},{"g":"g","x":464,"y":3.43},{"g":"g","x":466,"y":3.3},{"g":"g","x":467.6,"y":3.21},{"g":"g","x":469.5,"y":3.15},{"g":"g","x":471.1,"y":3.1},{"g":"g","x":473,"y":3.0},{"g":"g","x":474.7,"y":2.93},{"g":"g","x":476.5,"y":2.85},{"g":"g","x":478.2,"y":2.77},{"g":"g","x":480,"y":2.54},{"g":"g","x":488.9,"y":2.3},{"g":"g","x":492.4,"y":2.21},{"g":"g","x":496,"y":2.43},{"g":"g","x":498.5,"y":2.3},{"g":"g","x":501.3,"y":2.16},{"g":"g","x":504,"y":2.07},{"g":"g","x":506.7,"y":1.99},{"g":"g","x":509.5,"y":1.9},{"g":"g","x":512,"y":1.83},{"g":"g","x":514.5,"y":1.77},{"g":"g","x":517.3,"y":1.71},{"g":"g","x":520,"y":1.68},{"g":"g","x":522.7,"y":1.66},{"g":"g","x":525.5,"y":1.63},{"g":"g","x":528,"y":1.6},{"g":"g","x":530,"y":1.57},{"g":"g","x":531.6,"y":1.55},{"g":"g","x":533,"y":1.52},
      {"g":"o","x":420.4,"y":3.48},{"g":"o","x":430.2,"y":3.51},{"g":"o","x":432,"y":3.48},{"g":"o","x":433.8,"y":3.57},{"g":"o","x":435.6,"y":3.65},{"g":"o","x":436.4,"y":4.04},{"g":"o","x":437.3,"y":4.62},{"g":"o","x":438.2,"y":5.14},{"g":"o","x":439.1,"y":4.81},{"g":"o","x":440,"y":4.37},{"g":"o","x":440.9,"y":4.26},{"g":"o","x":442.7,"y":3.98},{"g":"o","x":444.4,"y":3.82},{"g":"o","x":446.2,"y":3.65},{"g":"o","x":447.1,"y":3.37},{"g":"o","x":448.9,"y":3.21},{"g":"o","x":449.8,"y":3.04},{"g":"o","x":451.6,"y":3.54},{"g":"o","x":453.3,"y":3.26},{"g":"o","x":455,"y":3.6},{"g":"o","x":456,"y":3.15},{"g":"o","x":457.8,"y":2.99},{"g":"o","x":459.6,"y":2.88},{"g":"o","x":461.3,"y":3.15},{"g":"o","x":464,"y":3.04},{"g":"o","x":466.7,"y":2.88},{"g":"o","x":469.3,"y":2.96},{"g":"o","x":472,"y":2.77},{"g":"o","x":473.8,"y":2.6},{"g":"o","x":475.6,"y":2.52},{"g":"o","x":478.2,"y":2.38},{"g":"o","x":494.2,"y":2.38},{"g":"o","x":495.5,"y":2.33},{"g":"o","x":496.9,"y":2.27},{"g":"o","x":498.2,"y":2.24},{"g":"o","x":499.6,"y":2.21},{"g":"o","x":501,"y":2.15},{"g":"o","x":502.2,"y":2.1},{"g":"o","x":503.5,"y":2.06},{"g":"o","x":504.9,"y":2.02},{"g":"o","x":506.2,"y":1.99},{"g":"o","x":507.6,"y":1.96},{"g":"o","x":508.9,"y":1.95},{"g":"o","x":510.2,"y":1.94},{"g":"o","x":511.5,"y":1.91},{"g":"o","x":512.9,"y":1.88},{"g":"o","x":514.2,"y":1.85},{"g":"o","x":515.6,"y":1.83},{"g":"o","x":516.9,"y":1.83},{"g":"o","x":518.2,"y":1.83},{"g":"o","x":519.5,"y":1.81},{"g":"o","x":520.9,"y":1.8},{"g":"o","x":522.2,"y":1.78},{"g":"o","x":523.6,"y":1.77},{"g":"o","x":524.9,"y":1.75},{"g":"o","x":526.2,"y":1.74},{"g":"o","x":527,"y":1.72},{"g":"o","x":528.9,"y":1.99},{"g":"o","x":529.8,"y":2.05},{"g":"o","x":534.2,"y":1.94},{"g":"o","x":535.1,"y":1.99}
    ]
  },
  "concat": [
    {
      "width": 463, "height": 363, "data": {"name": "p1"},
      "layer": [
        {"mark": "point", "encoding": {
          "x": {"field": "x", "type": "quantitative", "scale": {"domain": [400, 600], "nice": false}, "axis": {"orient": "bottom", "title": null, "values": [400,450,500,550,600], "tickSize": -16, "labelExpr": "'' + datum.value"}},
          "y": {"field": "y", "type": "quantitative", "scale": {"domain": [-40, 10], "nice": false, "reverse": true}, "axis": {"orient": "left", "title": "Temperature (°C)", "titleX": -93, "titleBaseline": "middle", "values": [-40,-30,-20,-10,0,10], "tickSize": -16, "labelExpr": "'' + datum.value"}},
          "color": {"field": "g", "type": "nominal", "scale": {"domain": ["k","b","g","o"], "range": ["#000000","#0000ff","#1a801a","#ffa500"]}, "legend": null}}},
        {"mark": {"type": "point", "opacity": 0}, "encoding": {
          "x": {"field": "x", "type": "quantitative", "axis": {"orient": "bottom", "title": null, "labels": false, "tickSize": -8, "values": [410,420,430,440,460,470,480,490,510,520,530,540,560,570,580,590]}},
          "y": {"field": "y", "type": "quantitative", "axis": {"orient": "left", "title": null, "labels": false, "tickSize": -8, "values": [-37.5,-35,-32.5,-27.5,-25,-22.5,-17.5,-15,-12.5,-7.5,-5,-2.5,2.5,5,7.5]}}}},
        {"mark": {"type": "point", "opacity": 0}, "encoding": {
          "x": {"field": "x", "type": "quantitative", "axis": {"orient": "top", "title": null, "labels": false, "tickSize": -16, "values": [400,450,500,550,600]}},
          "y": {"field": "y", "type": "quantitative", "axis": {"orient": "right", "title": null, "labels": false, "tickSize": -16, "values": [-40,-30,-20,-10,0,10]}}}},
        {"mark": {"type": "point", "opacity": 0}, "encoding": {
          "x": {"field": "x", "type": "quantitative", "axis": {"orient": "top", "title": null, "labels": false, "tickSize": -8, "values": [410,420,430,440,460,470,480,490,510,520,530,540,560,570,580,590]}},
          "y": {"field": "y", "type": "quantitative", "axis": {"orient": "right", "title": null, "labels": false, "tickSize": -8, "values": [-37.5,-35,-32.5,-27.5,-25,-22.5,-17.5,-15,-12.5,-7.5,-5,-2.5,2.5,5,7.5]}}}}
      ],
      "resolve": {"axis": {"x": "independent", "y": "independent"}}
    },
    {
      "width": 463, "height": 363, "data": {"name": "p2"},
      "layer": [
        {"mark": "point", "encoding": {
          "x": {"field": "x", "type": "quantitative", "scale": {"domain": [400, 600], "nice": false}, "axis": {"orient": "bottom", "title": null, "values": [400,450,500,550,600], "tickSize": -16, "labelExpr": "'' + datum.value"}},
          "y": {"field": "y", "type": "quantitative", "scale": {"domain": [0, 100], "nice": false}, "axis": {"orient": "left", "title": "Rel. humidity, water/ice (%)", "titleX": -93, "titleBaseline": "middle", "values": [0,20,40,60,80,100], "tickSize": -16, "labelExpr": "'' + datum.value"}},
          "color": {"field": "g", "type": "nominal", "scale": {"domain": ["k","b","g","o"], "range": ["#000000","#0000ff","#1a801a","#ffa500"]}, "legend": null}}},
        {"mark": {"type": "point", "opacity": 0}, "encoding": {
          "x": {"field": "x", "type": "quantitative", "axis": {"orient": "bottom", "title": null, "labels": false, "tickSize": -8, "values": [410,420,430,440,460,470,480,490,510,520,530,540,560,570,580,590]}},
          "y": {"field": "y", "type": "quantitative", "axis": {"orient": "left", "title": null, "labels": false, "tickSize": -8, "values": [5,10,15,25,30,35,45,50,55,65,70,75,85,90,95]}}}},
        {"mark": {"type": "point", "opacity": 0}, "encoding": {
          "x": {"field": "x", "type": "quantitative", "axis": {"orient": "top", "title": null, "labels": false, "tickSize": -16, "values": [400,450,500,550,600]}},
          "y": {"field": "y", "type": "quantitative", "axis": {"orient": "right", "title": null, "labels": false, "tickSize": -16, "values": [0,20,40,60,80,100]}}}},
        {"mark": {"type": "point", "opacity": 0}, "encoding": {
          "x": {"field": "x", "type": "quantitative", "axis": {"orient": "top", "title": null, "labels": false, "tickSize": -8, "values": [410,420,430,440,460,470,480,490,510,520,530,540,560,570,580,590]}},
          "y": {"field": "y", "type": "quantitative", "axis": {"orient": "right", "title": null, "labels": false, "tickSize": -8, "values": [5,10,15,25,30,35,45,50,55,65,70,75,85,90,95]}}}}
      ],
      "resolve": {"axis": {"x": "independent", "y": "independent"}}
    },
    {
      "width": 463, "height": 363, "data": {"name": "p3"},
      "layer": [
        {"mark": "point", "encoding": {
          "x": {"field": "x", "type": "quantitative", "scale": {"domain": [400, 600], "nice": false}, "axis": {"orient": "bottom", "title": null, "values": [400,450,500,550,600], "tickSize": -16, "labelExpr": "'' + datum.value"}},
          "y": {"field": "y", "type": "quantitative", "scale": {"domain": [0, 10], "nice": false}, "axis": {"orient": "left", "title": "Mean SFLC, cyan (10⁻⁶ nm⁻¹)", "titleX": -93, "titleBaseline": "middle", "values": [0,2,4,6,8,10], "tickSize": -16, "labelExpr": "'' + datum.value"}},
          "color": {"field": "g", "type": "nominal", "scale": {"domain": ["k","b","g","o"], "range": ["#000000","#0000ff","#1a801a","#ffa500"]}, "legend": null}}},
        {"mark": {"type": "point", "opacity": 0}, "encoding": {
          "x": {"field": "x", "type": "quantitative", "axis": {"orient": "bottom", "title": null, "labels": false, "tickSize": -8, "values": [410,420,430,440,460,470,480,490,510,520,530,540,560,570,580,590]}},
          "y": {"field": "y", "type": "quantitative", "axis": {"orient": "left", "title": null, "labels": false, "tickSize": -8, "values": [0.5,1,1.5,2.5,3,3.5,4.5,5,5.5,6.5,7,7.5,8.5,9,9.5]}}}},
        {"mark": {"type": "point", "opacity": 0}, "encoding": {
          "x": {"field": "x", "type": "quantitative", "axis": {"orient": "top", "title": null, "labels": false, "tickSize": -16, "values": [400,450,500,550,600]}},
          "y": {"field": "y", "type": "quantitative", "axis": {"orient": "right", "title": null, "labels": false, "tickSize": -16, "values": [0,2,4,6,8,10]}}}},
        {"mark": {"type": "point", "opacity": 0}, "encoding": {
          "x": {"field": "x", "type": "quantitative", "axis": {"orient": "top", "title": null, "labels": false, "tickSize": -8, "values": [410,420,430,440,460,470,480,490,510,520,530,540,560,570,580,590]}},
          "y": {"field": "y", "type": "quantitative", "axis": {"orient": "right", "title": null, "labels": false, "tickSize": -8, "values": [0.5,1,1.5,2.5,3,3.5,4.5,5,5.5,6.5,7,7.5,8.5,9,9.5]}}}}
      ],
      "resolve": {"axis": {"x": "independent", "y": "independent"}}
    },
    {
      "width": 463, "height": 363, "data": {"name": "p4"},
      "layer": [
        {"mark": "point", "encoding": {
          "x": {"field": "x", "type": "quantitative", "scale": {"domain": [400, 600], "nice": false}, "axis": {"orient": "bottom", "title": null, "values": [400,450,500,550,600], "tickSize": -16, "labelExpr": "'' + datum.value"}},
          "y": {"field": "y", "type": "quantitative", "scale": {"domain": [0, 16], "nice": false}, "axis": {"orient": "left", "title": "Particle depolarization ratio (%)", "titleX": -93, "titleBaseline": "middle", "values": [0,4,8,12,16], "tickSize": -16, "labelExpr": "'' + datum.value"}},
          "color": {"field": "g", "type": "nominal", "scale": {"domain": ["k","b","g","o"], "range": ["#000000","#0000ff","#1a801a","#ffa500"]}, "legend": null}}},
        {"mark": {"type": "point", "opacity": 0}, "encoding": {
          "x": {"field": "x", "type": "quantitative", "axis": {"orient": "bottom", "title": null, "labels": false, "tickSize": -8, "values": [410,420,430,440,460,470,480,490,510,520,530,540,560,570,580,590]}},
          "y": {"field": "y", "type": "quantitative", "axis": {"orient": "left", "title": null, "labels": false, "tickSize": -8, "values": [1,2,3,5,6,7,9,10,11,13,14,15]}}}},
        {"mark": {"type": "point", "opacity": 0}, "encoding": {
          "x": {"field": "x", "type": "quantitative", "axis": {"orient": "top", "title": null, "labels": false, "tickSize": -16, "values": [400,450,500,550,600]}},
          "y": {"field": "y", "type": "quantitative", "axis": {"orient": "right", "title": null, "labels": false, "tickSize": -16, "values": [0,4,8,12,16]}}}},
        {"mark": {"type": "point", "opacity": 0}, "encoding": {
          "x": {"field": "x", "type": "quantitative", "axis": {"orient": "top", "title": null, "labels": false, "tickSize": -8, "values": [410,420,430,440,460,470,480,490,510,520,530,540,560,570,580,590]}},
          "y": {"field": "y", "type": "quantitative", "axis": {"orient": "right", "title": null, "labels": false, "tickSize": -8, "values": [1,2,3,5,6,7,9,10,11,13,14,15]}}}}
      ],
      "resolve": {"axis": {"x": "independent", "y": "independent"}}
    },
    {
      "width": 463, "height": 363, "data": {"name": "p5"},
      "layer": [
        {"mark": "point", "encoding": {
          "x": {"field": "x", "type": "quantitative", "scale": {"domain": [400, 600], "nice": false}, "axis": {"orient": "bottom", "title": null, "values": [400,450,500,550,600], "tickSize": -16, "labelExpr": "'' + datum.value"}},
          "y": {"field": "y", "type": "quantitative", "scale": {"domain": [400, 600], "nice": false}, "axis": {"orient": "left", "title": "Center wavelength (nm)", "titleX": -93, "titleBaseline": "middle", "values": [400,450,500,550,600], "tickSize": -16, "labelExpr": "'' + datum.value"}},
          "color": {"field": "g", "type": "nominal", "scale": {"domain": ["k","b","g","o"], "range": ["#000000","#0000ff","#1a801a","#ffa500"]}, "legend": null}}},
        {"mark": {"type": "point", "opacity": 0}, "encoding": {
          "x": {"field": "x", "type": "quantitative", "axis": {"orient": "bottom", "title": null, "labels": false, "tickSize": -8, "values": [410,420,430,440,460,470,480,490,510,520,530,540,560,570,580,590]}},
          "y": {"field": "y", "type": "quantitative", "axis": {"orient": "left", "title": null, "labels": false, "tickSize": -8, "values": [410,420,430,440,460,470,480,490,510,520,530,540,560,570,580,590]}}}},
        {"mark": {"type": "point", "opacity": 0}, "encoding": {
          "x": {"field": "x", "type": "quantitative", "axis": {"orient": "top", "title": null, "labels": false, "tickSize": -16, "values": [400,450,500,550,600]}},
          "y": {"field": "y", "type": "quantitative", "axis": {"orient": "right", "title": null, "labels": false, "tickSize": -16, "values": [400,450,500,550,600]}}}},
        {"mark": {"type": "point", "opacity": 0}, "encoding": {
          "x": {"field": "x", "type": "quantitative", "axis": {"orient": "top", "title": null, "labels": false, "tickSize": -8, "values": [410,420,430,440,460,470,480,490,510,520,530,540,560,570,580,590]}},
          "y": {"field": "y", "type": "quantitative", "axis": {"orient": "right", "title": null, "labels": false, "tickSize": -8, "values": [410,420,430,440,460,470,480,490,510,520,530,540,560,570,580,590]}}}}
      ],
      "resolve": {"axis": {"x": "independent", "y": "independent"}}
    },
    {
      "width": 463, "height": 363, "data": {"name": "p6"},
      "layer": [
        {"mark": "point", "encoding": {
          "x": {"field": "x", "type": "quantitative", "scale": {"domain": [400, 600], "nice": false}, "axis": {"orient": "bottom", "title": null, "values": [400,450,500,550,600], "tickSize": -16, "labelExpr": "'' + datum.value"}},
          "y": {"field": "y", "type": "quantitative", "scale": {"domain": [400, 600], "nice": false}, "axis": {"orient": "left", "title": "Wavelength HWHM, blue (nm)", "titleX": -93, "titleBaseline": "middle", "values": [400,450,500,550,600], "tickSize": -16, "labelExpr": "'' + datum.value"}},
          "color": {"field": "g", "type": "nominal", "scale": {"domain": ["k","b","g","o"], "range": ["#000000","#0000ff","#1a801a","#ffa500"]}, "legend": null}}},
        {"mark": {"type": "point", "opacity": 0}, "encoding": {
          "x": {"field": "x", "type": "quantitative", "axis": {"orient": "bottom", "title": null, "labels": false, "tickSize": -8, "values": [410,420,430,440,460,470,480,490,510,520,530,540,560,570,580,590]}},
          "y": {"field": "y", "type": "quantitative", "axis": {"orient": "left", "title": null, "labels": false, "tickSize": -8, "values": [410,420,430,440,460,470,480,490,510,520,530,540,560,570,580,590]}}}},
        {"mark": {"type": "point", "opacity": 0}, "encoding": {
          "x": {"field": "x", "type": "quantitative", "axis": {"orient": "top", "title": null, "labels": false, "tickSize": -16, "values": [400,450,500,550,600]}},
          "y": {"field": "y", "type": "quantitative", "axis": {"orient": "right", "title": null, "labels": false, "tickSize": -16, "values": [400,450,500,550,600]}}}},
        {"mark": {"type": "point", "opacity": 0}, "encoding": {
          "x": {"field": "x", "type": "quantitative", "axis": {"orient": "top", "title": null, "labels": false, "tickSize": -8, "values": [410,420,430,440,460,470,480,490,510,520,530,540,560,570,580,590]}},
          "y": {"field": "y", "type": "quantitative", "axis": {"orient": "right", "title": null, "labels": false, "tickSize": -8, "values": [410,420,430,440,460,470,480,490,510,520,530,540,560,570,580,590]}}}}
      ],
      "resolve": {"axis": {"x": "independent", "y": "independent"}}
    },
    {
      "width": 463, "height": 363, "data": {"name": "p7"},
      "layer": [
        {"mark": "point", "encoding": {
          "x": {"field": "x", "type": "quantitative", "scale": {"domain": [400, 600], "nice": false}, "axis": {"orient": "bottom", "title": "Center wavelength (nm)", "titleY": 51, "titleBaseline": "middle", "values": [400,450,500,550,600], "tickSize": -16, "labelExpr": "'' + datum.value"}},
          "y": {"field": "y", "type": "quantitative", "scale": {"domain": [0, 100], "nice": false}, "axis": {"orient": "left", "title": "Particle lidar ratio (sr)", "titleX": -93, "titleBaseline": "middle", "values": [0,20,40,60,80,100], "tickSize": -16, "labelExpr": "'' + datum.value"}},
          "color": {"field": "g", "type": "nominal", "scale": {"domain": ["k","b","g","o"], "range": ["#000000","#0000ff","#1a801a","#ffa500"]}, "legend": null}}},
        {"mark": {"type": "point", "opacity": 0}, "encoding": {
          "x": {"field": "x", "type": "quantitative", "axis": {"orient": "bottom", "title": null, "labels": false, "tickSize": -8, "values": [410,420,430,440,460,470,480,490,510,520,530,540,560,570,580,590]}},
          "y": {"field": "y", "type": "quantitative", "axis": {"orient": "left", "title": null, "labels": false, "tickSize": -8, "values": [5,10,15,25,30,35,45,50,55,65,70,75,85,90,95]}}}},
        {"mark": {"type": "point", "opacity": 0}, "encoding": {
          "x": {"field": "x", "type": "quantitative", "axis": {"orient": "top", "title": null, "labels": false, "tickSize": -16, "values": [400,450,500,550,600]}},
          "y": {"field": "y", "type": "quantitative", "axis": {"orient": "right", "title": null, "labels": false, "tickSize": -16, "values": [0,20,40,60,80,100]}}}},
        {"mark": {"type": "point", "opacity": 0}, "encoding": {
          "x": {"field": "x", "type": "quantitative", "axis": {"orient": "top", "title": null, "labels": false, "tickSize": -8, "values": [410,420,430,440,460,470,480,490,510,520,530,540,560,570,580,590]}},
          "y": {"field": "y", "type": "quantitative", "axis": {"orient": "right", "title": null, "labels": false, "tickSize": -8, "values": [5,10,15,25,30,35,45,50,55,65,70,75,85,90,95]}}}}
      ],
      "resolve": {"axis": {"x": "independent", "y": "independent"}}
    },
    {
      "width": 463, "height": 363, "data": {"name": "p8"},
      "layer": [
        {"mark": "point", "encoding": {
          "x": {"field": "x", "type": "quantitative", "scale": {"domain": [400, 600], "nice": false}, "axis": {"orient": "bottom", "title": "Center wavelength (nm)", "titleY": 51, "titleBaseline": "middle", "values": [400,450,500,550,600], "tickSize": -16, "labelExpr": "'' + datum.value"}},
          "y": {"field": "y", "type": "quantitative", "scale": {"domain": [500, 700], "nice": false}, "axis": {"orient": "left", "title": "Wavelength HWHM, red (nm)", "titleX": -93, "titleBaseline": "middle", "values": [500,550,600,650,700], "tickSize": -16, "labelExpr": "'' + datum.value"}},
          "color": {"field": "g", "type": "nominal", "scale": {"domain": ["k","b","g","o"], "range": ["#000000","#0000ff","#1a801a","#ffa500"]}, "legend": null}}},
        {"mark": {"type": "point", "opacity": 0}, "encoding": {
          "x": {"field": "x", "type": "quantitative", "axis": {"orient": "bottom", "title": null, "labels": false, "tickSize": -8, "values": [410,420,430,440,460,470,480,490,510,520,530,540,560,570,580,590]}},
          "y": {"field": "y", "type": "quantitative", "axis": {"orient": "left", "title": null, "labels": false, "tickSize": -8, "values": [510,520,530,540,560,570,580,590,610,620,630,640,660,670,680,690]}}}},
        {"mark": {"type": "point", "opacity": 0}, "encoding": {
          "x": {"field": "x", "type": "quantitative", "axis": {"orient": "top", "title": null, "labels": false, "tickSize": -16, "values": [400,450,500,550,600]}},
          "y": {"field": "y", "type": "quantitative", "axis": {"orient": "right", "title": null, "labels": false, "tickSize": -16, "values": [500,550,600,650,700]}}}},
        {"mark": {"type": "point", "opacity": 0}, "encoding": {
          "x": {"field": "x", "type": "quantitative", "axis": {"orient": "top", "title": null, "labels": false, "tickSize": -8, "values": [410,420,430,440,460,470,480,490,510,520,530,540,560,570,580,590]}},
          "y": {"field": "y", "type": "quantitative", "axis": {"orient": "right", "title": null, "labels": false, "tickSize": -8, "values": [510,520,530,540,560,570,580,590,610,620,630,640,660,670,680,690]}}}}
      ],
      "resolve": {"axis": {"x": "independent", "y": "independent"}}
    },
    {
      "width": 463, "height": 363, "data": {"name": "p9"},
      "layer": [
        {"mark": "point", "encoding": {
          "x": {"field": "x", "type": "quantitative", "scale": {"domain": [400, 600], "nice": false}, "axis": {"orient": "bottom", "title": "Center wavelength (nm)", "titleY": 51, "titleBaseline": "middle", "values": [400,450,500,550,600], "tickSize": -16, "labelExpr": "'' + datum.value"}},
          "y": {"field": "y", "type": "quantitative", "scale": {"domain": [0, 6], "nice": false}, "axis": {"orient": "left", "title": "SFLBC(CWL)/SFLBC(605 nm)", "titleX": -93, "titleBaseline": "middle", "values": [0,2,4,6], "tickSize": -16, "labelExpr": "'' + datum.value"}},
          "color": {"field": "g", "type": "nominal", "scale": {"domain": ["k","b","g","o"], "range": ["#000000","#0000ff","#1a801a","#ffa500"]}, "legend": null}}},
        {"mark": {"type": "point", "opacity": 0}, "encoding": {
          "x": {"field": "x", "type": "quantitative", "axis": {"orient": "bottom", "title": null, "labels": false, "tickSize": -8, "values": [410,420,430,440,460,470,480,490,510,520,530,540,560,570,580,590]}},
          "y": {"field": "y", "type": "quantitative", "axis": {"orient": "left", "title": null, "labels": false, "tickSize": -8, "values": [0.5,1,1.5,2.5,3,3.5,4.5,5,5.5]}}}},
        {"mark": {"type": "point", "opacity": 0}, "encoding": {
          "x": {"field": "x", "type": "quantitative", "axis": {"orient": "top", "title": null, "labels": false, "tickSize": -16, "values": [400,450,500,550,600]}},
          "y": {"field": "y", "type": "quantitative", "axis": {"orient": "right", "title": null, "labels": false, "tickSize": -16, "values": [0,2,4,6]}}}},
        {"mark": {"type": "point", "opacity": 0}, "encoding": {
          "x": {"field": "x", "type": "quantitative", "axis": {"orient": "top", "title": null, "labels": false, "tickSize": -8, "values": [410,420,430,440,460,470,480,490,510,520,530,540,560,570,580,590]}},
          "y": {"field": "y", "type": "quantitative", "axis": {"orient": "right", "title": null, "labels": false, "tickSize": -8, "values": [0.5,1,1.5,2.5,3,3.5,4.5,5,5.5]}}}}
      ],
      "resolve": {"axis": {"x": "independent", "y": "independent"}}
    }
  ]
}
